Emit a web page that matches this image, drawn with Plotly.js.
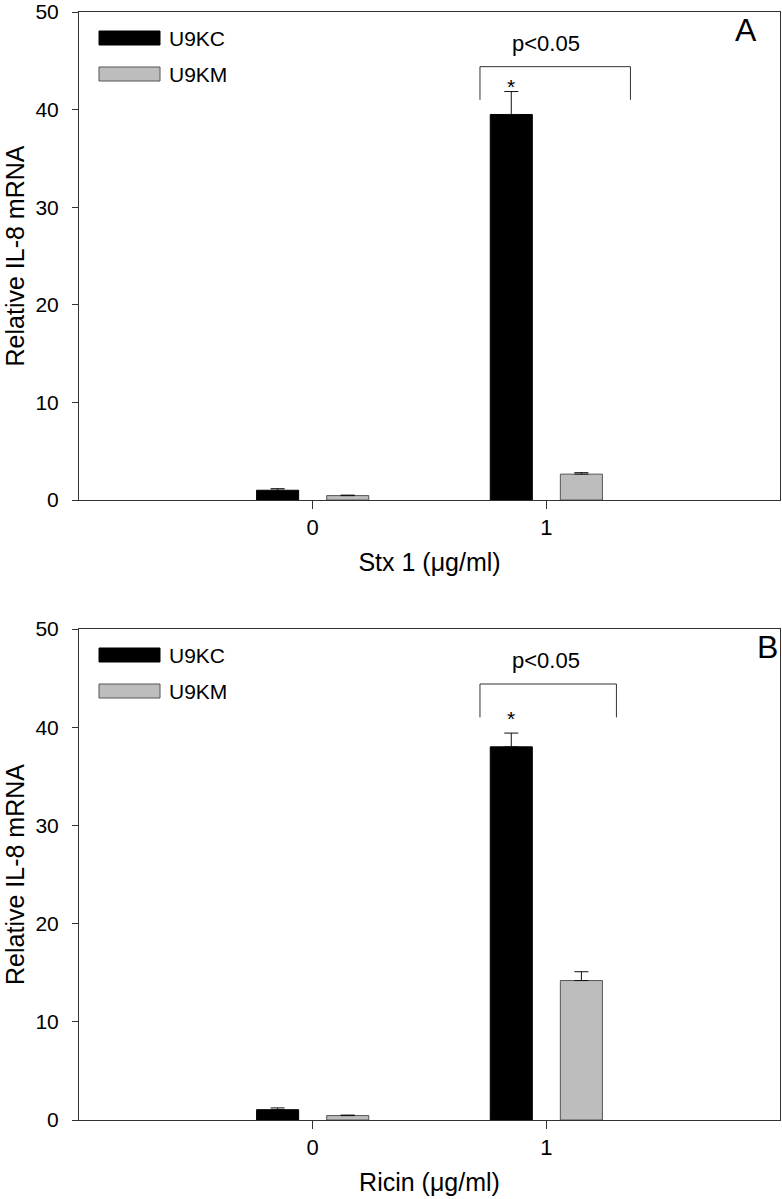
<!DOCTYPE html>
<html>
<head>
<meta charset="utf-8">
<script src="https://cdn.plot.ly/plotly-3.0.1.min.js"></script>
<style>
html,body{margin:0;padding:0;background:#fff;}
#chart{width:782px;height:1199px;}
</style>
</head>
<body>
<div id="chart"></div>
<script>
// ---- data ----
const doseValues = [0, 1];
const doseTickLabels = ['0', '1'];
const seriesNames = ['U9KC', 'U9KM'];

const stxU9KC = [1.0, 39.5];
const stxU9KCErr = [0.16, 2.35];
const stxU9KM = [0.45, 2.65];
const stxU9KMErr = [0.05, 0.15];

const ricinU9KC = [1.05, 38.0];
const ricinU9KCErr = [0.18, 1.4];
const ricinU9KM = [0.45, 14.2];
const ricinU9KMErr = [0.05, 0.9];

const yTicks = [0, 10, 20, 30, 40, 50];
const panelLabels = ['A', 'B'];
const xTitles = ['Stx 1 (\u03bcg/ml)', 'Ricin (\u03bcg/ml)'];
const yTitle = 'Relative IL-8 mRNA';
const sigText = 'p<0.05';
const starText = '*';

// ---- styling ----
const FONT = 'Liberation Sans, Arial, sans-serif';
const BLACK = '#000000';
const GRAY = '#bdbdbd';
const AXIS = '#333333';
const W = 782, H = 1199;
const L = 79, R = 2, T = 12, B = 79;
const plotW = W - L - R, plotH = H - T - B;
const px = x => (x - L) / plotW;
const py = y => (H - B - y) / plotH;

function barTrace(vals, errs, color, lineColor, offset, xa, ya, name) {
  return {
    type: 'bar', x: doseValues, y: vals, name: name,
    xaxis: xa, yaxis: ya, width: 0.18, offset: offset,
    marker: {color: color, line: {color: lineColor, width: 1}},
    error_y: {type: 'data', symmetric: false, array: errs,
      arrayminus: errs.map(() => 0), color: '#111', thickness: 1, width: 7},
    showlegend: false, hoverinfo: 'skip'
  };
}

const traces = [
  barTrace(stxU9KC, stxU9KCErr, BLACK, BLACK, -0.24, 'x', 'y', seriesNames[0]),
  barTrace(stxU9KM, stxU9KMErr, GRAY, '#555', 0.06, 'x', 'y', seriesNames[1]),
  barTrace(ricinU9KC, ricinU9KCErr, BLACK, BLACK, -0.24, 'x2', 'y2', seriesNames[0]),
  barTrace(ricinU9KM, ricinU9KMErr, GRAY, '#555', 0.06, 'x2', 'y2', seriesNames[1])
];

const domA = [py(500), 1];
const domB = [0, py(629)];

function xAxis(anchor, title) {
  return {
    anchor: anchor, range: [-1, 2], tickvals: doseValues, ticktext: doseTickLabels,
    ticks: 'outside', ticklen: 8, tickwidth: 1, tickcolor: AXIS,
    showline: true, linecolor: AXIS, linewidth: 1, mirror: true,
    showgrid: false, zeroline: false,
    tickfont: {family: FONT, size: 22, color: '#000'},
    title: {text: title, font: {family: FONT, size: 25, color: '#000'}, standoff: 14},
    fixedrange: true
  };
}
function yAxis(domain, anchor) {
  return {
    domain: domain, anchor: anchor, range: [0, 50], tickvals: yTicks,
    ticks: 'outside', ticklen: 6, tickwidth: 1, tickcolor: AXIS,
    ticklabelstandoff: 9, ticklabeloverflow: 'allow',
    showline: true, linecolor: AXIS, linewidth: 1, mirror: true,
    showgrid: false, zeroline: false,
    tickfont: {family: FONT, size: 21, color: '#000'},
    title: {text: yTitle, font: {family: FONT, size: 25, color: '#000'}, standoff: 3},
    fixedrange: true
  };
}

const shapes = [];
const annotations = [];

function panelDecor(topPx, xa, ya, bracketRight, labelX, starY, letter) {
  const ref = 'paper';
  // legend swatches
  const sw = [[BLACK, BLACK, 29, 43], [GRAY, '#555', 65, 79]];
  sw.forEach((s, i) => {
    shapes.push({type: 'rect', xref: ref, yref: ref,
      x0: px(99), x1: px(160), y0: py(topPx + s[2] - 10), y1: py(topPx + s[3] - 10),
      fillcolor: s[0], line: {color: s[1], width: 1}});
    annotations.push({xref: ref, yref: ref, x: px(167), y: py(topPx + (s[2] + s[3]) / 2 - 10),
      text: seriesNames[i], showarrow: false, xanchor: 'left', yanchor: 'middle',
      font: {family: FONT, size: 21, color: '#000'}});
  });
  // significance bracket (data coords)
  const yTop = 44.4, yEnd = 41.0;
  shapes.push({type: 'path', xref: xa, yref: ya,
    path: `M 0.716 ${yEnd} L 0.716 ${yTop} L ${bracketRight} ${yTop} L ${bracketRight} ${yEnd}`,
    line: {color: AXIS, width: 1}});
  annotations.push({xref: xa, yref: ya, x: 1.0, y: 46.8, text: sigText, showarrow: false,
    xanchor: 'center', yanchor: 'middle', font: {family: FONT, size: 22, color: '#000'}});
  // star over the U9KC bar at dose 1
  annotations.push({xref: xa, yref: ya, x: 0.85, y: starY, text: starText, showarrow: false,
    xanchor: 'center', yanchor: 'middle', yshift: -5, font: {family: FONT, size: 21, color: '#000'}});
  // panel letter
  annotations.push({xref: ref, yref: ref, x: px(labelX), y: py(topPx + 18), text: letter,
    showarrow: false, xanchor: 'center', yanchor: 'middle', font: {family: FONT, size: 32, color: '#000'}});
}
panelDecor(12, 'x', 'y', 1.36, 746, 42.9, panelLabels[0]);
panelDecor(629, 'x2', 'y2', 1.30, 767, 41.4, panelLabels[1]);

const layout = {
  width: W, height: H,
  margin: {l: L, r: R, t: T, b: B},
  paper_bgcolor: '#fff', plot_bgcolor: '#fff',
  barmode: 'overlay',
  font: {family: FONT, color: '#000'},
  xaxis: xAxis('y', xTitles[0]),
  yaxis: yAxis(domA, 'x'),
  xaxis2: xAxis('y2', xTitles[1]),
  yaxis2: yAxis(domB, 'x2'),
  shapes: shapes,
  annotations: annotations,
  showlegend: false
};

Plotly.newPlot('chart', traces, layout, {displayModeBar: false, staticPlot: true});
</script>
</body>
</html>
